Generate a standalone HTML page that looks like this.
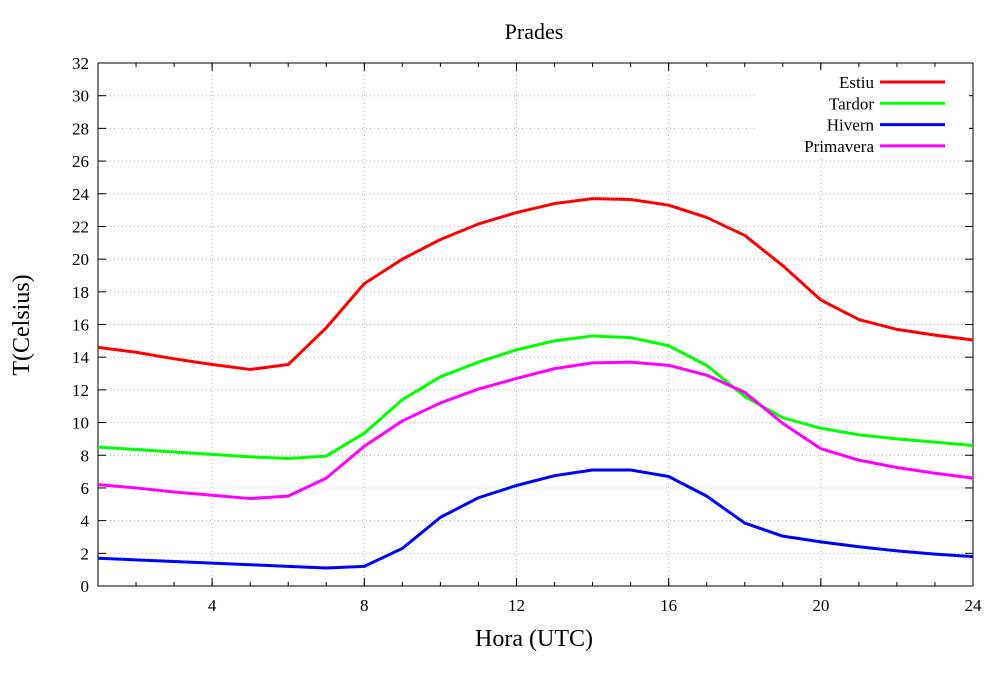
<!DOCTYPE html>
<html><head><meta charset="utf-8"><style>
body{margin:0;background:#fff}
svg text{font-family:"Liberation Serif",serif;fill:#000}
</style></head><body>
<svg id="chart" width="1008" height="671" xmlns="http://www.w3.org/2000/svg">
<rect width="1008" height="671" fill="#fff"/>
<text x="534" y="39" font-size="22" text-anchor="middle">Prades</text>
<text x="534" y="646" font-size="24" text-anchor="middle">Hora (UTC)</text>
<text x="0" y="0" font-size="24" text-anchor="middle" transform="translate(29,325) rotate(-90)">T(Celsius)</text>
<g id="grid"></g><g id="axes"></g><g id="legend"></g><g id="series"></g>
</svg>
<script>
const hours=[1,2,3,4,5,6,7,8,9,10,11,12,13,14,15,16,17,18,19,20,21,22,23,24];
const estiu=[14.6,14.3,13.9,13.55,13.25,13.55,15.8,18.5,20.0,21.2,22.15,22.85,23.4,23.7,23.65,23.3,22.55,21.45,19.6,17.5,16.3,15.7,15.35,15.05];
const tardor=[8.5,8.35,8.2,8.05,7.9,7.8,7.95,9.35,11.4,12.8,13.7,14.45,15.0,15.3,15.2,14.7,13.5,11.6,10.3,9.65,9.25,9.0,8.8,8.6];
const hivern=[1.7,1.6,1.5,1.4,1.3,1.2,1.1,1.2,2.3,4.2,5.4,6.15,6.75,7.1,7.1,6.7,5.5,3.85,3.05,2.7,2.4,2.15,1.95,1.8];
const primavera=[6.2,6.0,5.75,5.55,5.35,5.5,6.6,8.55,10.1,11.2,12.05,12.7,13.3,13.65,13.7,13.5,12.9,11.85,9.95,8.4,7.7,7.25,6.9,6.6];
const xTicks=[4,8,12,16,20,24];
const yTicks=[0,2,4,6,8,10,12,14,16,18,20,22,24,26,28,30,32];
const seriesNames=["Estiu","Tardor","Hivern","Primavera"];
const L=98,R=973,T=63,B=586;
const X=v=>L+(v-1)/(24-1)*(R-L);
const Y=v=>B-v/32*(B-T);
const NS="http://www.w3.org/2000/svg";
function mk(tag,parent,attrs){const e=document.createElementNS(NS,tag);for(const k in attrs)e.setAttribute(k,attrs[k]);parent.appendChild(e);return e;}
const grid=document.getElementById('grid'),axes=document.getElementById('axes');
yTicks.forEach(v=>{
 if(v>0&&v<32){const g=mk('line',grid,{x1:L,x2:R,y1:Y(v),y2:Y(v),stroke:'#b0b0b0','stroke-width':1,'stroke-dasharray':'1,3'});
 
 }
 const t=mk('text',axes,{x:L-9,y:Y(v)+6,'font-size':17,'text-anchor':'end'});t.textContent=v;
 
 
 mk('line',axes,{x1:L,x2:L+8,y1:Y(v),y2:Y(v),stroke:'#000'});
 mk('line',axes,{x1:R,x2:R-8,y1:Y(v),y2:Y(v),stroke:'#000'});
});
hours.forEach(h=>{mk('line',axes,{x1:X(h),x2:X(h),y1:B,y2:B-4,stroke:'#000'});mk('line',axes,{x1:X(h),x2:X(h),y1:T,y2:T+4,stroke:'#000'});});
xTicks.forEach(v=>{
 if(v<24){const g=mk('line',grid,{x1:X(v),x2:X(v),y1:T,y2:B,stroke:'#b0b0b0','stroke-width':1,'stroke-dasharray':'1,3'});
 
 }
 mk('line',axes,{x1:X(v),x2:X(v),y1:B,y2:B-8,stroke:'#000'});
 mk('line',axes,{x1:X(v),x2:X(v),y1:T,y2:T+8,stroke:'#000'});
 const t=mk('text',axes,{x:X(v),y:B+25,'font-size':17,'text-anchor':'middle'});t.textContent=v;
 
 
});
const frame=mk('rect',axes,{x:L,y:T,width:R-L,height:B-T,fill:'none',stroke:'#000','stroke-width':1});


const lg=document.getElementById('legend');
const bg=mk('rect',lg,{x:757,y:70,width:212,height:86,fill:'#fff'});


const colors=['#ff0000','#00ff00','#0000ff','#ff00ff'];
const data=[estiu,tardor,hivern,primavera];
const sg=document.getElementById('series');
data.forEach((arr,i)=>{
 const ly=82+i*21.3;
 const t=mk('text',lg,{x:874,y:ly+6,'font-size':17,'text-anchor':'end'});t.textContent=seriesNames[i];
 
 
 const ll=mk('line',lg,{x1:880,x2:945,y1:ly,y2:ly,stroke:colors[i],'stroke-width':3});
 
 
 const p=mk('polyline',sg,{points:arr.map((v,j)=>X(hours[j])+','+Y(v)).join(' '),fill:'none',stroke:colors[i],'stroke-width':3,'stroke-linejoin':'round'});
 
 
});
</script>
</body></html>
